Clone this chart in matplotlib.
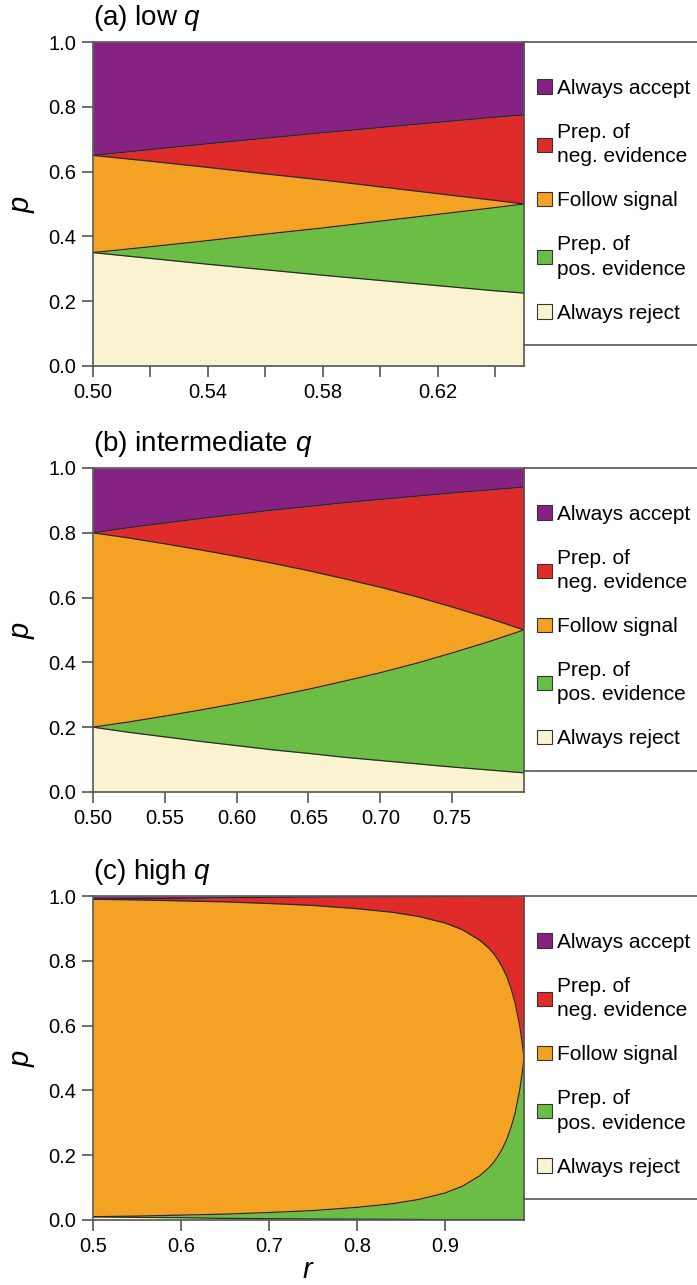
import matplotlib.pyplot as plt
from matplotlib.patches import Patch

plt.rcParams['font.family'] = ['Liberation Sans', 'DejaVu Sans']
plt.rcParams['mathtext.fontset'] = 'custom'
plt.rcParams['mathtext.rm'] = 'Liberation Sans'
plt.rcParams['mathtext.it'] = 'Liberation Sans:italic'

# Legend entries, top to bottom
region_names = ['Always accept', 'Prep. of\nneg. evidence', 'Follow signal',
                'Prep. of\npos. evidence', 'Always reject']
region_colors = ['#862382', '#e02b2b', '#f4a224', '#6bbd45', '#faf3cf']
panel_titles = ['(a) low $q$', '(b) intermediate $q$', '(c) high $q$']

# (a) low q: boundaries between the regions
r_low = [0.50, 0.52, 0.54, 0.56, 0.58, 0.60, 0.62, 0.64, 0.65]
accept_low = [0.650, 0.668, 0.686, 0.703, 0.720, 0.736, 0.752, 0.768, 0.775]
neg_low = [0.650, 0.632, 0.613, 0.593, 0.574, 0.553, 0.532, 0.511, 0.500]
pos_low = [0.350, 0.368, 0.387, 0.407, 0.426, 0.447, 0.468, 0.489, 0.500]
reject_low = [0.350, 0.332, 0.314, 0.297, 0.280, 0.264, 0.248, 0.232, 0.225]

# (b) intermediate q
r_mid = [0.500, 0.525, 0.550, 0.575, 0.600, 0.625, 0.650, 0.675, 0.700,
         0.725, 0.750, 0.775, 0.800]
accept_mid = [0.800, 0.816, 0.830, 0.844, 0.857, 0.870, 0.881, 0.893, 0.903,
              0.913, 0.923, 0.932, 0.941]
neg_mid = [0.800, 0.784, 0.766, 0.747, 0.727, 0.706, 0.683, 0.658, 0.632,
           0.603, 0.571, 0.537, 0.500]
pos_mid = [0.200, 0.216, 0.234, 0.253, 0.273, 0.294, 0.317, 0.342, 0.368,
           0.397, 0.429, 0.463, 0.500]
reject_mid = [0.200, 0.184, 0.170, 0.156, 0.143, 0.130, 0.119, 0.107, 0.097,
              0.087, 0.077, 0.068, 0.059]

# (c) high q
r_high = [0.50, 0.55, 0.60, 0.65, 0.70, 0.75, 0.80, 0.84, 0.87, 0.90, 0.92,
          0.94, 0.95, 0.955, 0.96, 0.965, 0.97, 0.975, 0.98, 0.985, 0.988,
          0.989, 0.99]
accept_high = [0.990, 0.992, 0.993, 0.995, 0.996, 0.997, 0.9975, 0.998,
               0.9985, 0.999, 0.999, 0.9994, 0.9995, 0.9996, 0.9996, 0.9997,
               0.9997, 0.9997, 0.9998, 0.9998, 0.9999, 0.9999, 0.9999]
neg_high = [0.990, 0.988, 0.985, 0.982, 0.977, 0.971, 0.961, 0.950, 0.937,
            0.917, 0.896, 0.863, 0.839, 0.824, 0.805, 0.782, 0.754, 0.717,
            0.669, 0.601, 0.546, 0.524, 0.500]
pos_high = [0.010, 0.012, 0.015, 0.018, 0.023, 0.029, 0.039, 0.050, 0.063,
            0.083, 0.104, 0.137, 0.161, 0.176, 0.195, 0.218, 0.246, 0.283,
            0.331, 0.399, 0.454, 0.476, 0.500]
reject_high = [0.010, 0.008, 0.007, 0.005, 0.004, 0.003, 0.0025, 0.002,
               0.0015, 0.001, 0.001, 0.0006, 0.0005, 0.0004, 0.0004, 0.0003,
               0.0003, 0.0003, 0.0002, 0.0002, 0.0001, 0.0001, 0.0001]

xticks_low = [0.50, 0.52, 0.54, 0.56, 0.58, 0.60, 0.62, 0.64]
xlabels_low = ['0.50', '', '0.54', '', '0.58', '', '0.62', '']
xticks_mid = [0.50, 0.55, 0.60, 0.65, 0.70, 0.75]
xlabels_mid = ['0.50', '0.55', '0.60', '0.65', '0.70', '0.75']
xticks_high = [0.5, 0.6, 0.7, 0.8, 0.9]
xlabels_high = ['0.5', '0.6', '0.7', '0.8', '0.9']
yticks = [0.0, 0.2, 0.4, 0.6, 0.8, 1.0]
ylabels = ['0.0', '0.2', '0.4', '0.6', '0.8', '1.0']

EDGE = '#2a2a2a'
SPINE = '#555555'


def draw_panel(ax, r, accept, neg, pos, reject, title, xticks, xlabels):
    """Fills the five decision regions and styles one panel"""
    purple, red, orange, green, cream = region_colors
    ax.fill_between(r, 0, reject, color=cream, lw=0)
    ax.fill_between(r, reject, pos, color=green, lw=0)
    ax.fill_between(r, pos, neg, color=orange, lw=0)
    ax.fill_between(r, neg, accept, color=red, lw=0)
    ax.fill_between(r, accept, 1, color=purple, lw=0)
    for b in (accept, neg, pos, reject):
        ax.plot(r, b, color=EDGE, lw=0.9)

    ax.set_xlim(r[0], r[-1])
    ax.set_ylim(0, 1)
    ax.set_xticks(xticks)
    ax.set_xticklabels(xlabels)
    ax.set_yticks(yticks)
    ax.set_yticklabels(ylabels)
    ax.tick_params(direction='out', length=8, width=1.2, color=SPINE,
                   labelsize=14.5, pad=4)
    for s in ax.spines.values():
        s.set_color(SPINE)
        s.set_linewidth(1.2)

    ax.set_title(title, loc='left', fontsize=20, pad=12)
    ax.set_ylabel('$p$', fontsize=21)
    ax.yaxis.set_label_coords(-0.13, 0.5)

    # legend framed by two horizontal rules on the right
    ax.plot([1, 1.45], [1, 1], transform=ax.transAxes, clip_on=False,
            color=SPINE, lw=1.2)
    ax.plot([1, 1.45], [0.065, 0.065], transform=ax.transAxes, clip_on=False,
            color=SPINE, lw=1.2)
    handles = [Patch(facecolor=c, edgecolor='#333333', lw=0.8)
               for c in region_colors]
    leg = ax.legend(handles, region_names, loc='center left',
                    bbox_to_anchor=(1.03, 0.51), frameon=False,
                    fontsize=15, handlelength=0.7, handleheight=0.7,
                    handletextpad=0.25, labelspacing=1.2, borderpad=0,
                    borderaxespad=0)
    for t in leg.get_texts():
        t.set_linespacing(1.35)


fig = plt.figure(figsize=(6.97, 12.85), dpi=100)
ax_a = fig.add_axes([0.1334, 0.7152, 0.6184, 0.2521])
ax_b = fig.add_axes([0.1334, 0.3837, 0.6184, 0.2521])
ax_c = fig.add_axes([0.1334, 0.0506, 0.6184, 0.2521])

draw_panel(ax_a, r_low, accept_low, neg_low, pos_low, reject_low,
           panel_titles[0], xticks_low, xlabels_low)
draw_panel(ax_b, r_mid, accept_mid, neg_mid, pos_mid, reject_mid,
           panel_titles[1], xticks_mid, xlabels_mid)
draw_panel(ax_c, r_high, accept_high, neg_high, pos_high, reject_high,
           panel_titles[2], xticks_high, xlabels_high)
ax_c.set_xlabel('$r$', fontsize=21, labelpad=0)

fig.savefig('out.png', dpi=100)
plt.close()
